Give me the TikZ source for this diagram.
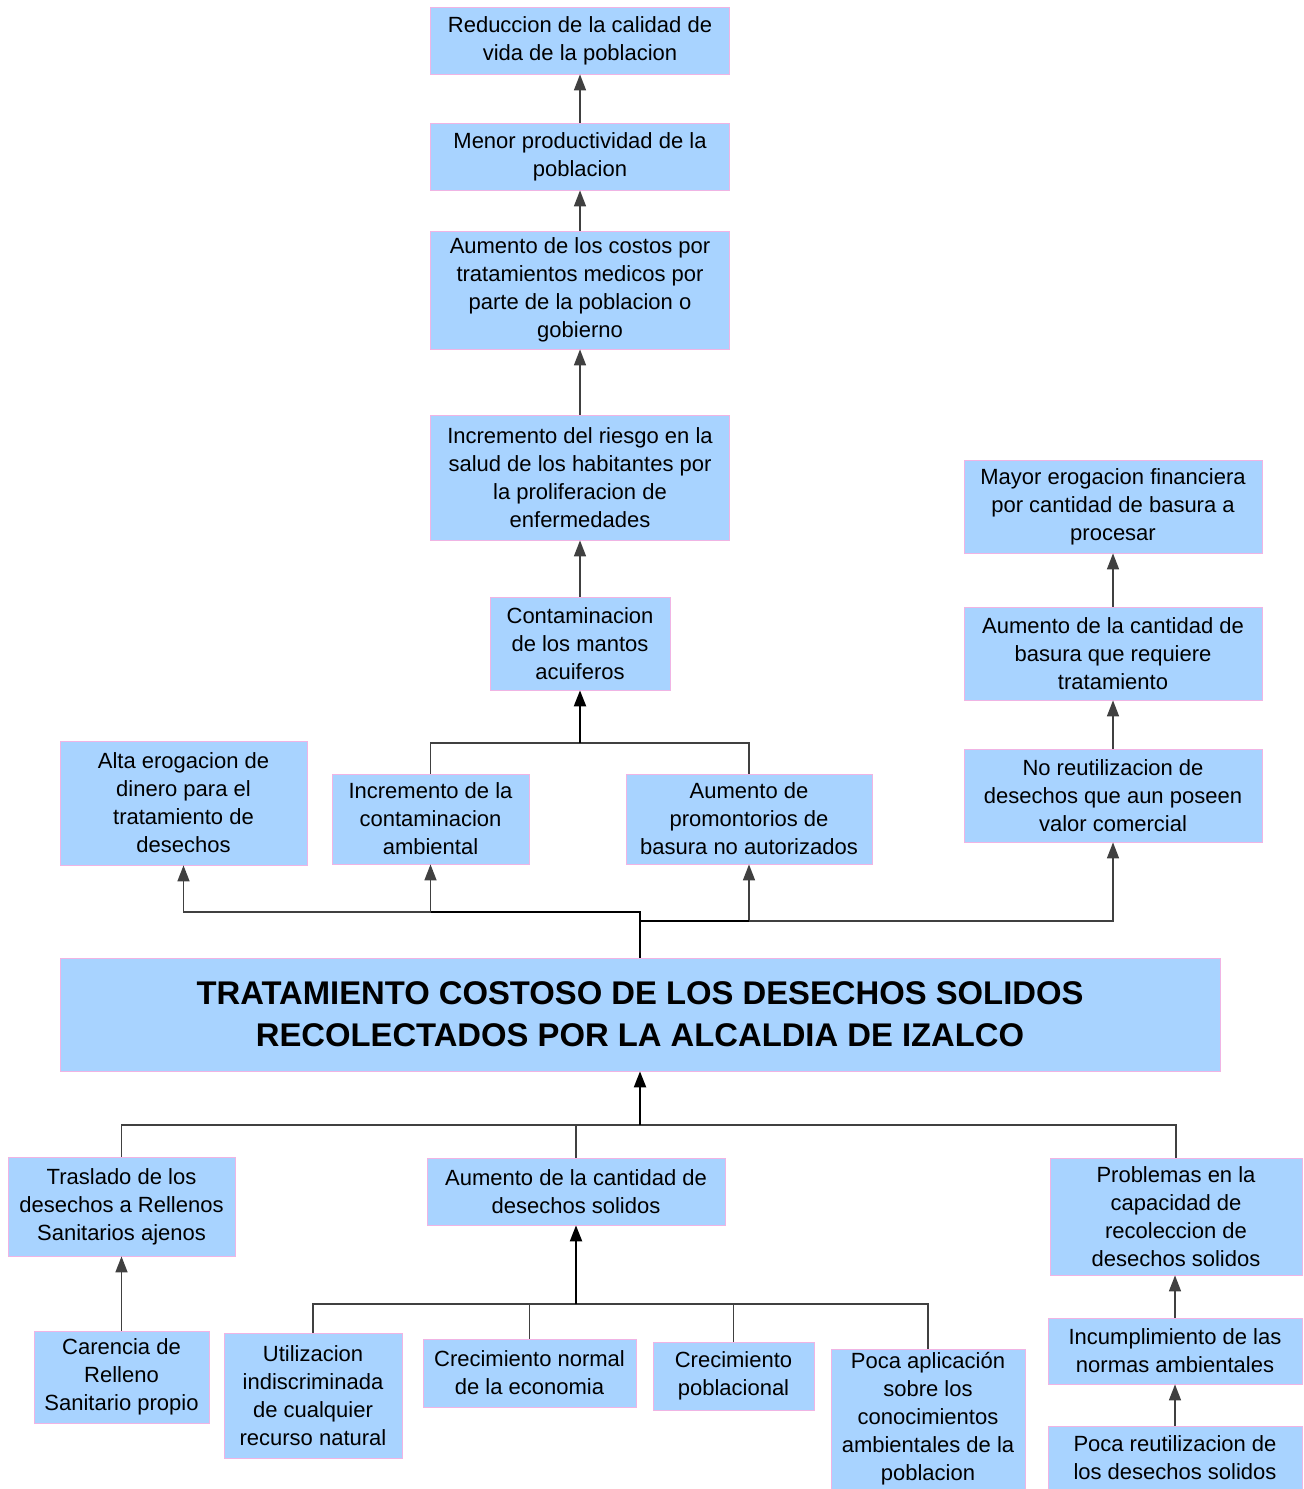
\documentclass[tikz,border=0pt]{standalone}
\usepackage{fontspec}
\setmainfont{Liberation Sans}
\usetikzlibrary{arrows.meta}

\definecolor{boxblue}{HTML}{A8D3FF}
\definecolor{boxpink}{HTML}{F0B4E4}
\definecolor{linegray}{HTML}{404040}

\begin{document}
\begin{tikzpicture}[x=0.5pt,y=-0.5pt,
    box/.style={draw=boxpink,fill=boxblue,inner sep=0pt,align=center,
      font=\fontsize{11}{14}\selectfont},
    link/.style={draw=linegray,line width=0.8pt},
    linkk/.style={draw=black,line width=1.1pt},
    arr/.style={link,-{Triangle[width=6pt,length=8pt]}},
    arrk/.style={linkk,-{Triangle[width=6pt,length=8pt]}}]
    \useasboundingbox (0,0) rectangle (1303,1489);

    % efectos, columna central
    \node[box,minimum width=149.5pt,minimum height=33.5pt] (redu) at (580,40.5)
      {Reduccion de la calidad de\\vida de la poblacion};
    \node[box,minimum width=149.5pt,minimum height=33.5pt] (menor) at (580,156.5)
      {Menor productividad de la\\poblacion};
    \node[box,minimum width=149.5pt,minimum height=59pt] (costos) at (580,290)
      {Aumento de los costos por\\tratamientos medicos por\\parte de la poblacion o\\gobierno};
    \node[box,minimum width=149.5pt,minimum height=62.5pt] (riesgo) at (580,477.5)
      {Incremento del riesgo en la\\salud de los habitantes por\\la proliferacion de\\enfermedades};
    \node[box,minimum width=90pt,minimum height=46.5pt] (mantos) at (580,643.5)
      {Contaminacion\\de los mantos\\acuiferos};

    % efectos directos
    \node[box,minimum width=123.5pt,minimum height=62pt] (alta) at (183.5,803)
      {Alta erogacion de\\dinero para el\\tratamiento de\\desechos};
    \node[box,minimum width=98.5pt,minimum height=45pt] (contam) at (430.5,819)
      {Incremento de la\\contaminacion\\ambiental};
    \node[box,minimum width=123pt,minimum height=45pt] (promon) at (749,819)
      {Aumento de\\promontorios de\\basura no autorizados};

    % efectos, columna derecha
    \node[box,minimum width=149pt,minimum height=46.5pt] (mayor) at (1113,506.5)
      {Mayor erogacion financiera\\por cantidad de basura a\\procesar};
    \node[box,minimum width=149pt,minimum height=46.5pt] (basura) at (1113,653.5)
      {Aumento de la cantidad de\\basura que requiere\\tratamiento};
    \node[box,minimum width=149pt,minimum height=46.5pt] (noreu) at (1113,795.5)
      {No reutilizacion de\\desechos que aun poseen\\valor comercial};

    % problema central
    \node[box,minimum width=580pt,minimum height=56.5pt,
      font=\fontsize{16.4}{21}\selectfont\bfseries] (prob) at (640,1014.5)
      {TRATAMIENTO COSTOSO DE LOS DESECHOS SOLIDOS\\RECOLECTADOS POR LA ALCALDIA DE IZALCO};

    % causas
    \node[box,minimum width=113.5pt,minimum height=49.5pt] (traslado) at (121.5,1206.5)
      {Traslado de los\\desechos a Rellenos\\Sanitarios ajenos};
    \node[box,minimum width=149pt,minimum height=33.5pt] (cantidad) at (576,1191.5)
      {Aumento de la cantidad de\\desechos solidos};
    \node[box,minimum width=126pt,minimum height=58.5pt] (recol) at (1176,1216.5)
      {Problemas en la\\capacidad de\\recoleccion de\\desechos solidos};

    \node[box,minimum width=87.5pt,minimum height=46pt] (carencia) at (121.5,1377)
      {Carencia de\\Relleno\\Sanitario propio};
    \node[box,minimum width=89pt,minimum height=62.5pt] (util) at (313,1395.5)
      {Utilizacion\\indiscriminada\\de cualquier\\recurso natural};
    \node[box,minimum width=106.5pt,minimum height=34pt] (econ) at (529.5,1373)
      {Crecimiento normal\\de la economia};
    \node[box,minimum width=80.5pt,minimum height=34pt] (pobl) at (733.5,1376)
      {Crecimiento\\poblacional};
    \node[box,minimum width=97pt,minimum height=70pt] (conoc) at (928,1419)
      {Poca aplicación\\sobre los\\conocimientos\\ambientales de la\\poblacion};
    \node[box,minimum width=127pt,minimum height=33pt] (normas) at (1175,1351)
      {Incumplimiento de las\\normas ambientales};
    \node[box,minimum width=127pt,minimum height=31.5pt] (poca) at (1175,1457.5)
      {Poca reutilizacion de\\los desechos solidos};

    % puntos de union
    \coordinate (jm) at (580,743);
    \coordinate (jl) at (640,912);
    \coordinate (jr) at (640,921);
    \coordinate (jp) at (640,1125);
    \coordinate (jc) at (576,1304);

    % flechas arriba
    \draw[arr] (menor) -- (redu);
    \draw[arr] (costos) -- (menor);
    \draw[arr] (riesgo) -- (costos);
    \draw[arr] (mantos) -- (riesgo);
    \draw[link] (contam.north) |- (jm) -| (promon.north);
    \draw[arrk] (jm) -- (mantos.south);
    \draw[arr] (basura) -- (mayor);
    \draw[arr] (noreu) -- (basura);

    % del problema a los efectos
    \draw[arr] (jl) -| (alta.south);
    \draw[arr] (jl) -| (contam.south);
    \draw[arr] (jr) -| (noreu.south);
    \draw[arr] (jr) -| (promon.south);
    \draw[linkk] (prob.north) -- (jl) -- (contam.south |- jl);
    \draw[linkk] (jr) -- (promon.south |- jr);

    % de las causas al problema
    \draw[link] (traslado.north) |- (jp);
    \draw[link] (cantidad.north) |- (jp);
    \draw[link] (recol.north) |- (jp);
    \draw[arrk] (jp) -- (prob.south);
    \draw[arr] (carencia) -- (traslado);
    \draw[link] (util.north) |- (jc);
    \draw[link] (econ.north) |- (jc);
    \draw[link] (pobl.north) |- (jc);
    \draw[link] (conoc.north) |- (jc);
    \draw[arrk] (jc) -- (cantidad.south);
    \draw[arr] (normas) -- (recol.south -| normas);
    \draw[arr] (poca) -- (normas);
\end{tikzpicture}
\end{document}
